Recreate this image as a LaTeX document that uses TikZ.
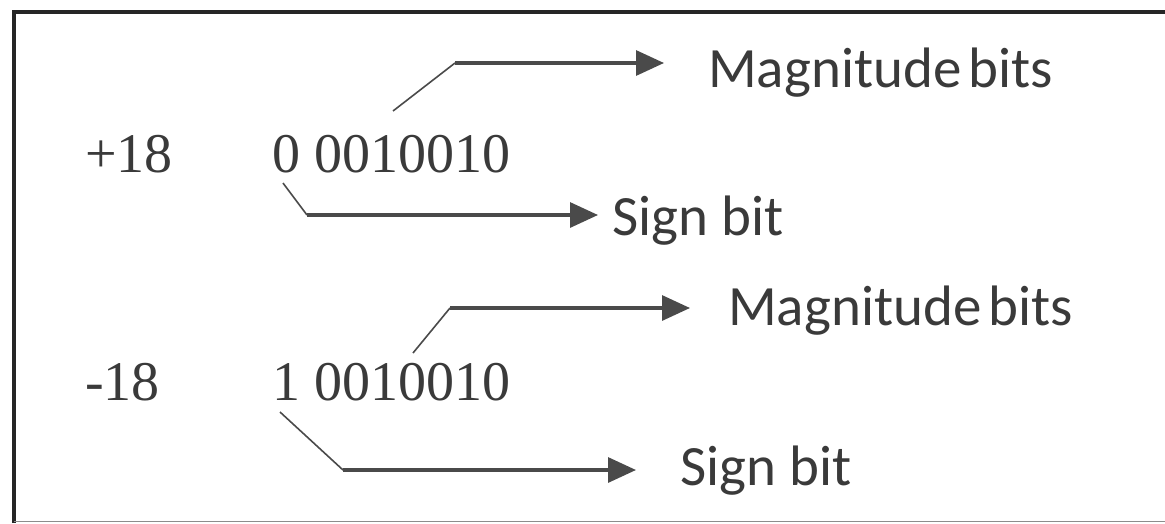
\documentclass[tikz,border=0pt]{standalone}
\usepackage{fontspec}
\setmainfont{Liberation Serif}
\newfontfamily\labelfont{Carlito}
\usetikzlibrary{arrows.meta}
\definecolor{ink}{HTML}{3A3A3A}
\definecolor{wire}{HTML}{4A4A4A}
\tikzset{
  num/.style={anchor=base west, inner sep=0pt, text=ink, font=\fontsize{56}{60}\selectfont},
  lbl/.style={anchor=base west, inner sep=0pt, text=ink, font=\labelfont\fontsize{57}{60}\selectfont},
  lead/.style={draw=wire, line width=1.6pt},
  pointer/.style={draw=wire, line width=3.2pt, -{Triangle[length=28pt,width=25pt]}},
}
\newcommand\tightgap{\hspace{0.13em}}
\begin{document}
\begin{tikzpicture}[x=1pt,y=-1pt]
\useasboundingbox (0,0) rectangle (1165,523);
\fill[white] (0,0) rectangle (1165,523);
% frame
\draw[line width=4.5pt, black!85] (14,523) -- (14,12) -- (1165,12);
\draw[line width=1.2pt, black!45] (14,521.5) -- (1165,521.5);

% positive value
\node[num] (p18) at (85,172) {+18};
\node[num] (pbin) at (272,172) {0 0010010};
\node[lbl] (pmag) at (708,87) {Magnitude\tightgap bits};
\node[lbl] (psign) at (612,235) {Sign bit};

% negative value
\node[num] (n18) at (85,400) {-18};
\node[num] (nbin) at (272,400) {1 0010010};
\node[lbl] (nmag) at (728,325) {Magnitude\tightgap bits};
\node[lbl] (nsign) at (680,485) {Sign bit};

% leader start points and corners
\coordinate (pms) at (393,111);
\coordinate (pmc) at (455,63);
\coordinate (pss) at (283,183);
\coordinate (psc) at (307,215);
\coordinate (nms) at (413,353);
\coordinate (nmc) at (450,308);
\coordinate (nss) at (280,412);
\coordinate (nsc) at (343,470);

% positive leaders
\draw[lead] (pms) -- (pmc);
\draw[pointer] (pmc) -- ([xshift=-44pt]pmc -| pmag.west);
\draw[lead] (pss) -- (psc);
\draw[pointer] (psc) -- ([xshift=-14pt]psc -| psign.west);

% negative leaders
\draw[lead] (nms) -- (nmc);
\draw[pointer] (nmc) -- ([xshift=-38pt]nmc -| nmag.west);
\draw[lead] (nss) -- (nsc);
\draw[pointer] (nsc) -- ([xshift=-44pt]nsc -| nsign.west);
\end{tikzpicture}
\end{document}
